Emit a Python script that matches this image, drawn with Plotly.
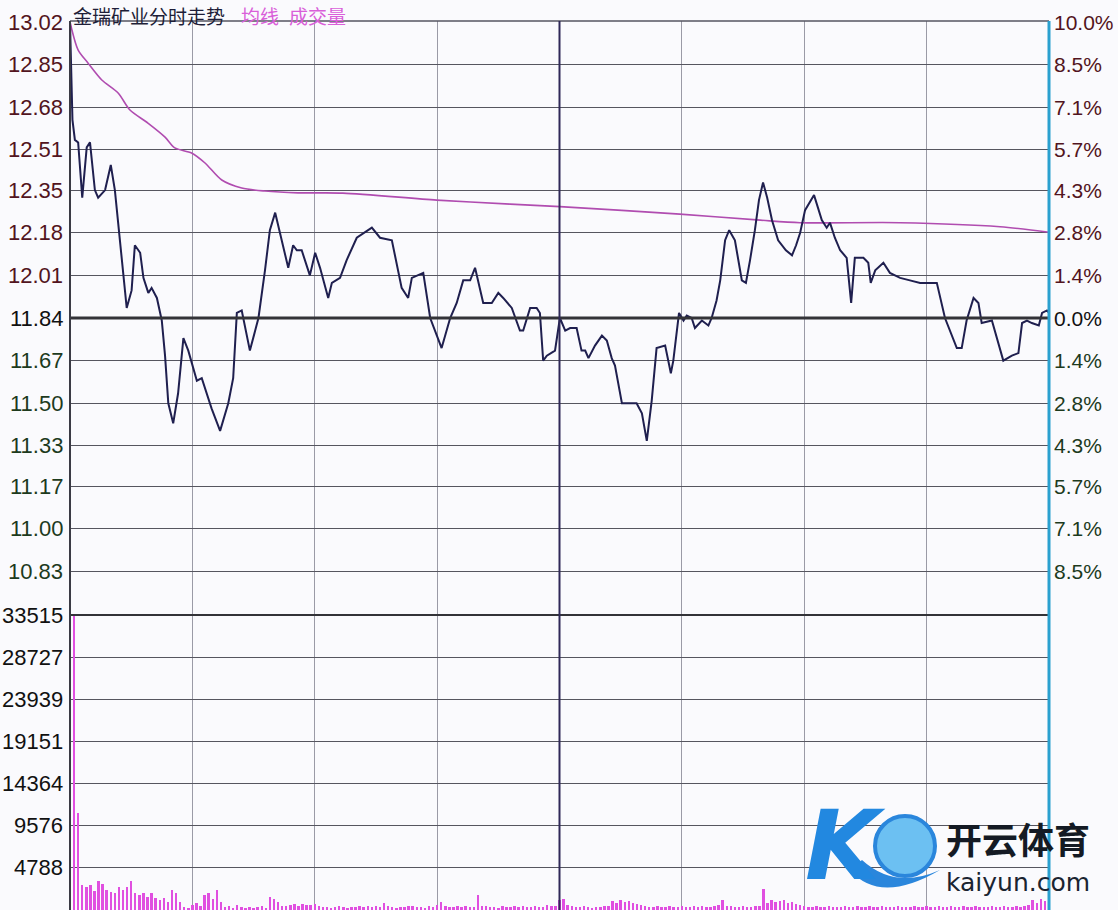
import plotly.graph_objects as go

# ---------------- data ----------------
PREV_CLOSE = 11.84
price_ticks = [13.02, 12.85, 12.68, 12.51, 12.35, 12.18, 12.01, 11.84,
               11.67, 11.50, 11.33, 11.17, 11.00, 10.83]
pct_labels = ["10.0%", "8.5%", "7.1%", "5.7%", "4.3%", "2.8%", "1.4%", "0.0%",
              "1.4%", "2.8%", "4.3%", "5.7%", "7.1%", "8.5%"]
vol_ticks = [33515, 28727, 23939, 19151, 14364, 9576, 4788]
time_grid = [30, 60, 90, 150, 180, 210]

price_minutes = [0, 0.6, 1.2, 2.0, 3.0, 4.1, 4.9, 6.1, 6.9, 8.6, 10.0, 11.0, 13.9, 15.1,
                 15.9, 17.2, 18.0, 19.2, 20.0, 21.3, 22.5, 23.3, 24.1, 25.3, 26.5, 27.8,
                 29.0, 31.1, 32.3, 34.7, 36.8, 38.8, 40.0, 40.9, 42.1, 44.1, 45.4, 46.2,
                 47.8, 49.0, 50.3, 51.9, 53.5, 54.7, 55.6, 56.8, 58.8, 60.1, 61.3, 63.3,
                 64.2, 66.2, 67.8, 70.3, 72.3, 74.0, 76.0, 78.9, 81.3, 82.9, 83.8, 86.6,
                 88.3, 91.1, 93.2, 94.8, 96.4, 98.1, 99.3, 101.3, 103.4, 105.0, 106.2,
                 108.3, 110.3, 111.1, 112.8, 114.4, 115.2, 116.0, 116.9, 118.9, 120.1,
                 121.4, 122.6, 124.2, 125.4, 126.3, 127.1, 128.7, 130.4, 131.6, 132.8,
                 133.6, 135.3, 138.9, 140.2, 141.4, 142.6, 143.8, 145.9, 146.7, 147.3,
                 147.9, 149.3, 150.4, 151.2, 152.4, 153.2, 154.9, 156.5, 157.3, 158.5,
                 159.4, 160.6, 161.6, 163.0, 164.7, 165.7, 166.7, 167.9, 168.9, 169.9,
                 170.9, 172.1, 173.6, 175.5, 177.0, 178.0, 179.0, 180.2, 182.4, 184.3,
                 185.5, 186.3, 187.5, 188.8, 190.4, 191.5, 192.4, 194.5, 195.7, 196.3,
                 197.4, 199.4, 201.0, 203.5, 205.9, 208.4, 212.5, 214.5, 217.4, 218.6,
                 219.8, 221.5, 222.7, 223.5, 226.0, 228.8, 230.9, 232.5, 233.4, 234.6,
                 235.8, 237.5, 238.3, 239.5, 240.0]
prices = [13.02, 12.63, 12.55, 12.54, 12.32, 12.52, 12.54, 12.35, 12.32, 12.35, 12.45,
          12.35, 11.88, 11.95, 12.13, 12.10, 12.00, 11.94, 11.96, 11.92, 11.83, 11.69,
          11.50, 11.42, 11.54, 11.76, 11.71, 11.59, 11.60, 11.48, 11.39, 11.50, 11.60,
          11.86, 11.87, 11.71, 11.79, 11.84, 12.03, 12.19, 12.26, 12.15, 12.04, 12.13,
          12.11, 12.11, 12.01, 12.10, 12.04, 11.92, 11.98, 12.00, 12.07, 12.16, 12.18,
          12.20, 12.16, 12.15, 11.96, 11.92, 12.00, 12.02, 11.84, 11.72, 11.84, 11.90,
          11.99, 11.99, 12.04, 11.90, 11.90, 11.94, 11.92, 11.88, 11.79, 11.79, 11.88,
          11.88, 11.86, 11.67, 11.69, 11.71, 11.84, 11.79, 11.80, 11.80, 11.71, 11.71,
          11.68, 11.73, 11.77, 11.75, 11.68, 11.65, 11.50, 11.50, 11.46, 11.35, 11.51,
          11.72, 11.73, 11.67, 11.62, 11.67, 11.86, 11.83, 11.85, 11.84, 11.80, 11.83,
          11.81, 11.84, 11.91, 11.99, 12.15, 12.19, 12.15, 11.99, 11.98, 12.07, 12.19,
          12.31, 12.38, 12.32, 12.23, 12.15, 12.11, 12.09, 12.13, 12.18, 12.27, 12.33,
          12.23, 12.20, 12.22, 12.16, 12.11, 12.08, 11.90, 12.08, 12.08, 12.06, 11.98,
          12.03, 12.06, 12.02, 12.00, 11.99, 11.98, 11.98, 11.84, 11.72, 11.72, 11.83,
          11.92, 11.90, 11.82, 11.83, 11.67, 11.69, 11.70, 11.82, 11.83, 11.82, 11.81,
          11.86, 11.87, 11.86]
assert len(price_minutes) == len(prices)

avg_minutes = [0, 2.0, 4.4, 7.8, 11.8, 14.7, 19.1, 23.3, 25.7, 29.8, 33.1, 37.2, 42.1,
               47.8, 55.9, 66.9, 89.9, 107.9, 120.1, 149.5, 169.2, 179.0, 203.5, 228.0, 240]
avg_prices = [13.02, 12.908, 12.857, 12.789, 12.737, 12.669, 12.617, 12.561, 12.518,
              12.498, 12.458, 12.390, 12.358, 12.346, 12.339, 12.338, 12.310, 12.294,
              12.284, 12.254, 12.230, 12.220, 12.220, 12.204, 12.182]

volumes = [
    33515, 11000, 2800, 2600, 2800, 2200, 3300, 3000, 2300, 2000,
    1900, 2600, 2300, 2600, 3300, 1900, 1700, 1900, 1500, 1900,
    1400, 1100, 1400, 900, 2300, 1900, 900, 300, 200, 600,
    800, 400, 1700, 1900, 1200, 2300, 900, 300, 400, 250,
    600, 300, 200, 350, 250, 300, 400, 200, 1500, 1300,
    900, 500, 400, 600, 700, 500, 650, 550, 600, 700,
    400, 300, 350, 250, 300, 400, 300, 250, 350, 300,
    400, 300, 450, 350, 500, 300, 800, 400, 300, 250,
    350, 300, 400, 500, 350, 300, 250, 400, 350, 600,
    900, 400, 300, 350, 450, 300, 400, 350, 300, 1700,
    500, 400, 300, 350, 250, 400, 300, 350, 400, 300,
    450, 350, 300, 400, 350, 300, 600, 500, 400, 1100,
    1300, 600, 400, 300, 350, 400, 300, 250, 350, 300,
    400, 500, 1000, 800, 1100, 900, 1000, 800, 700, 600,
    400, 350, 300, 400, 350, 300, 450, 300, 350, 400,
    300, 350, 400, 300, 450, 350, 300, 400, 600, 1100,
    500, 400, 350, 300, 400, 350, 300, 400, 500, 2400,
    800, 1100, 900, 1000, 1100, 800, 900, 700, 600, 400,
    350, 300, 400, 300, 350, 400, 300, 350, 300, 400,
    350, 300, 400, 350, 300, 400, 350, 300, 400, 350,
    300, 350, 400, 300, 350, 300, 400, 350, 300, 400,
    350, 300, 400, 350, 300, 400, 300, 350, 400, 300,
    350, 400, 300, 350, 300, 400, 350, 300, 400, 350,
    300, 400, 350, 500, 600, 1100, 800, 1200, 1000, 600,
]
vol_minutes = list(range(1, len(volumes) + 1))

# ---------------- figure ----------------
W, H = 1118, 910
ML, MR, MT, MB = 70, 69, 21, 0
plot_w = W - ML - MR
plot_h = H - MT - MB
split_px = 615
split = (H - split_px) / plot_h  # paper y of the split line

def px_x(px):
    return (px - ML) / plot_w

def px_y(py):
    return (H - MB - py) / plot_h

BG = "#fafafd"
LABEL_FONT = "Arial, Liberation Sans, sans-serif"
UP = "#521420"
DOWN = "#1d3a1d"
NEUTRAL = "#111111"

fig = go.Figure()

fig.add_trace(go.Bar(
    x=vol_minutes, y=volumes, xaxis="x2", yaxis="y2",
    marker=dict(color="#e04fe0", line=dict(width=0)),
    width=0.6, showlegend=False, hoverinfo="skip"))

fig.add_trace(go.Scatter(
    x=avg_minutes, y=avg_prices, mode="lines",
    line=dict(color="#b04cb0", width=1.6, shape="spline", smoothing=0.8),
    showlegend=False, hoverinfo="skip"))

fig.add_trace(go.Scatter(
    x=price_minutes, y=prices, mode="lines",
    line=dict(color="#1f1f4f", width=2),
    showlegend=False, hoverinfo="skip"))

lo = PREV_CLOSE * 0.9
hi = PREV_CLOSE * 1.1

fig.update_layout(
    width=W, height=H,
    margin=dict(l=ML, r=MR, t=MT, b=MB),
    paper_bgcolor=BG, plot_bgcolor=BG,
    bargap=0,
    xaxis=dict(domain=[0, 1], range=[0, 240], anchor="y",
               tickvals=time_grid, showticklabels=False, ticks="",
               showgrid=True, gridcolor="#9a9aa6", gridwidth=1,
               zeroline=False, showline=False),
    xaxis2=dict(domain=[0, 1], range=[0, 240], anchor="y2", matches="x",
                tickvals=time_grid, showticklabels=False, ticks="",
                showgrid=True, gridcolor="#9a9aa6", gridwidth=1,
                zeroline=False, showline=False),
    yaxis=dict(domain=[split, 1], range=[lo, hi], tickvals=price_ticks,
               showticklabels=False, ticks="", showgrid=True,
               gridcolor="#55555f", gridwidth=1.3, zeroline=False, showline=False),
    yaxis2=dict(domain=[0, split], range=[0, vol_ticks[0]], tickvals=vol_ticks,
                showticklabels=False, ticks="", showgrid=True,
                gridcolor="#55555f", gridwidth=1.3, zeroline=False, showline=False),
)

shapes = []
shapes.append(dict(type="line", xref="paper", yref="y", x0=0, x1=1,
                   y0=PREV_CLOSE, y1=PREV_CLOSE, line=dict(color="#333338", width=3)))
shapes.append(dict(type="line", xref="paper", yref="paper", x0=0, x1=1,
                   y0=split, y1=split, line=dict(color="#333338", width=2)))
shapes.append(dict(type="line", xref="paper", yref="paper", x0=0, x1=1,
                   y0=1, y1=1, line=dict(color="#555560", width=1.5)))
shapes.append(dict(type="line", xref="x", yref="paper", x0=120, x1=120,
                   y0=0, y1=1, line=dict(color="#2e2858", width=2)))
shapes.append(dict(type="line", xref="paper", yref="paper", x0=0, x1=0,
                   y0=0, y1=1, line=dict(color="#3a3a44", width=2)))
shapes.append(dict(type="line", xref="paper", yref="paper", x0=1, x1=1,
                   y0=0, y1=1, line=dict(color="#2aa0cf", width=3)))

# watermark logo pieces
shapes.append(dict(type="circle", xref="paper", yref="paper",
                   x0=px_x(875), x1=px_x(935), y0=px_y(876), y1=px_y(816),
                   fillcolor="#6cc0f2", line=dict(color="#2a86dc", width=4), layer="above"))
shapes.append(dict(type="path", xref="paper", yref="paper", layer="above",
                   path=f"M {px_x(850)},{px_y(870)} Q {px_x(880)},{px_y(905)} {px_x(940)},{px_y(870)} "
                        f"Q {px_x(895)},{px_y(890)} {px_x(862)},{px_y(860)} Z",
                   fillcolor="#2a86dc", line=dict(width=0)))
fig.update_layout(shapes=shapes)

ann = []
for t, pl in zip(price_ticks, pct_labels):
    c = UP if t > PREV_CLOSE else (NEUTRAL if t == PREV_CLOSE else DOWN)
    ann.append(dict(x=0, xref="paper", y=t, yref="y", text=f"{t:.2f}",
                    showarrow=False, xanchor="right", yanchor="middle", xshift=-5,
                    font=dict(family=LABEL_FONT, size=22, color=c)))
    ann.append(dict(x=1, xref="paper", y=t, yref="y", text=pl,
                    showarrow=False, xanchor="left", yanchor="middle", xshift=3,
                    font=dict(family=LABEL_FONT, size=21, color=c)))
for v in vol_ticks:
    ann.append(dict(x=0, xref="paper", y=v, yref="y2", text=str(v),
                    showarrow=False, xanchor="right", yanchor="middle", xshift=-5,
                    font=dict(family=LABEL_FONT, size=22, color=NEUTRAL)))

CJK = "Noto Sans CJK SC"
ann.append(dict(x=px_x(71), xref="paper", y=px_y(0), yref="paper", text="金瑞矿业分时走势",
                showarrow=False, xanchor="left", yanchor="top",
                font=dict(family=CJK, size=19, color="#1e1e38")))
ann.append(dict(x=px_x(239), xref="paper", y=px_y(0), yref="paper", text="均线",
                showarrow=False, xanchor="left", yanchor="top",
                font=dict(family=CJK, size=19, color="#d95fd9")))
ann.append(dict(x=px_x(287), xref="paper", y=px_y(0), yref="paper", text="成交量",
                showarrow=False, xanchor="left", yanchor="top",
                font=dict(family=CJK, size=19, color="#d95fd9")))

# watermark text
ann.append(dict(x=px_x(888), xref="paper", y=px_y(846), yref="paper", text="<i><b>K</b></i>",
                showarrow=False, xanchor="right", yanchor="middle",
                font=dict(family="DejaVu Sans", size=96, color="#2288e0")))
ann.append(dict(x=px_x(944), xref="paper", y=px_y(838), yref="paper", text="<b>开云体育</b>",
                showarrow=False, xanchor="left", yanchor="middle",
                font=dict(family=CJK, size=36, color="#141a24")))
ann.append(dict(x=px_x(944), xref="paper", y=px_y(882), yref="paper", text="kaiyun.com",
                showarrow=False, xanchor="left", yanchor="middle",
                font=dict(family="DejaVu Sans", size=25, color="#1a2430")))
fig.update_layout(annotations=ann)

fig.write_html("out.html",
               config={"displayModeBar": False},
               post_script="document.body.style.margin='0';document.body.style.background='#fafafd';")
